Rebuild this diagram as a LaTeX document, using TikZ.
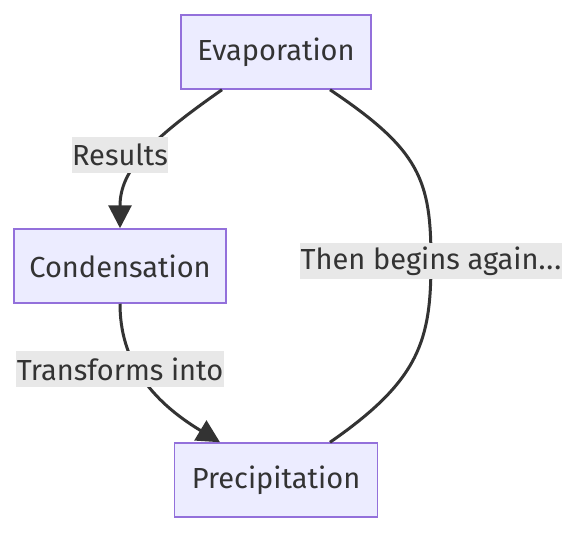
\documentclass[tikz,border=0pt]{standalone}
\usepackage{fontspec}
\setmainfont{Fira Sans}
\usetikzlibrary{arrows.meta}

\definecolor{boxfill}{HTML}{ECECFF}
\definecolor{boxline}{HTML}{9370DB}
\definecolor{ink}{HTML}{333333}
\definecolor{labelbg}{HTML}{E8E8E8}

\tikzset{
    stage/.style={draw=boxline, fill=boxfill, line width=1.5pt, text=ink,
        minimum height=74pt, inner sep=0pt, font=\fontsize{29}{34}\selectfont},
    tag/.style={fill=labelbg, text=ink, inner xsep=0.5pt, inner ysep=0pt,
        minimum height=36pt, font=\fontsize{29}{34}\selectfont},
    flow/.style={draw=ink, line width=3pt},
    tip/.style={-{Triangle[length=23pt,width=23pt]}},
}

\begin{document}
\begin{tikzpicture}[x=1pt, y=-1pt]
    \useasboundingbox (0,0) rectangle (585,533);

    \node [stage, minimum width=190pt] (evap) at (276, 52) {Evaporation};
    \node [stage, minimum width=212pt] (cond) at (120, 266) {Condensation};
    \node [stage, minimum width=203pt] (prec) at (276, 480) {Precipitation};

    % edges
    \draw [flow, tip] ([xshift=-54pt]evap.south)
        .. controls (150, 140) and (120, 170) .. (cond.north);
    \draw [flow, tip] (cond.south)
        .. controls (120, 360) and (150, 400) .. ([xshift=-56pt]prec.north);
    \draw [flow] ([xshift=54pt]prec.north)
        .. controls (420, 380) and (431, 340) .. (431, 261)
        .. controls (431, 180) and (420, 150) .. ([xshift=54pt]evap.south);

    % edge labels
    \node [tag] (results) at (120, 155) {Results};
    \node [tag] (transforms) at (120, 369) {Transforms into};
    \node [tag] (again) at (431, 261) {Then begins again{.}\kern1pt{.}\kern1pt{.}};
\end{tikzpicture}
\end{document}
